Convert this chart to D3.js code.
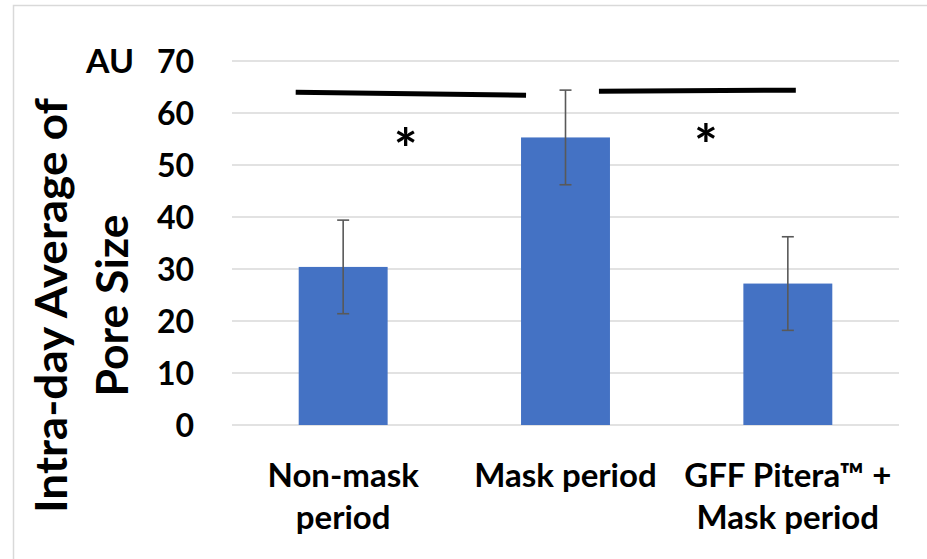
<!DOCTYPE html>
<html>
<head>
<meta charset="utf-8">
<script src="https://cdn.jsdelivr.net/npm/d3@7"></script>
<style>
  html, body { margin: 0; padding: 0; background: #fff; }
  svg { display: block; }
  text { font-family: Lato, "Open Sans", sans-serif; font-weight: 700; fill: #000; }
</style>
</head>
<body>
<svg id="chart" width="927" height="559"></svg>
<script>
// Pore size by period (AU), with standard-deviation error bars
const categories = ["Non-mask period", "Mask period", "GFF Pitera™ + Mask period"];
const categoryLines = [["Non-mask", "period"], ["Mask period"], ["GFF Pitera™ +", "Mask period"]];
const means = [30.4, 55.3, 27.2];
const errors = [9.0, 9.1, 9.0];
const yTicks = [0, 10, 20, 30, 40, 50, 60, 70];
const unitLabel = "AU";
const yTitleLines = ["Intra-day Average of", "Pore Size"];
// significance brackets between neighbouring groups: [from, to, level]
const brackets = [[0, 1, 63.7], [1, 2, 64.3]];
const stars = ["*", "*"];

const svg = d3.select("#chart");
const W = 927, H = 559;
const plot = { left: 232, right: 899, top: 61, bottom: 425 };

// outer frame
svg.append("rect")
  .attr("x", 13.5).attr("y", 5.5)
  .attr("width", W + 10).attr("height", H + 10)
  .attr("fill", "#fff").attr("stroke", "#d9d9d9").attr("stroke-width", 1.5);

const x = d3.scaleBand()
  .domain(categories)
  .range([plot.left, plot.right])
  .paddingInner(0.6)
  .paddingOuter(0.3);

const y = d3.scaleLinear().domain([0, 70]).range([plot.bottom, plot.top]);

// gridlines
svg.append("g")
  .selectAll("line")
  .data(yTicks)
  .join("line")
  .attr("x1", plot.left).attr("x2", plot.right)
  .attr("y1", d => y(d)).attr("y2", d => y(d))
  .attr("stroke", "#d9d9d9").attr("stroke-width", 1.5);

// y tick labels via axis generator
const yAxis = svg.append("g")
  .attr("transform", `translate(${plot.left - 38},0)`)
  .call(d3.axisLeft(y).tickValues(yTicks).tickSize(0).tickPadding(0));
yAxis.select(".domain").remove();
yAxis.selectAll("text")
  .style("font-family", "Lato, 'Open Sans', sans-serif")
  .style("font-weight", 700)
  .style("font-size", "32px")
  .attr("fill", "#000")
  .attr("dy", "0.36em");

svg.append("text")
  .attr("x", 110).attr("y", y(70))
  .attr("dy", "0.36em")
  .attr("text-anchor", "middle")
  .attr("textLength", 48)
  .attr("lengthAdjust", "spacingAndGlyphs")
  .style("font-size", "32px")
  .text(unitLabel);

// y title
const titleG = svg.append("g")
  .attr("transform", `translate(0, ${(98 + 513) / 2}) rotate(-90)`);
const titleLens = [415, 182];
const titleX = [52, 113];
yTitleLines.forEach((t, i) => {
  titleG.append("text")
    .attr("x", 0).attr("y", titleX[i])
    .attr("dy", "0.35em")
    .attr("text-anchor", "middle")
    .attr("textLength", titleLens[i])
    .attr("lengthAdjust", "spacingAndGlyphs")
    .style("font-size", "44px")
    .text(t);
});

// bars
svg.append("g")
  .selectAll("rect")
  .data(categories)
  .join("rect")
  .attr("x", d => x(d))
  .attr("width", x.bandwidth())
  .attr("y", (d, i) => y(means[i]))
  .attr("height", (d, i) => y(0) - y(means[i]))
  .attr("fill", "#4472c4");

// error bars
const eb = svg.append("g").attr("stroke", "#595959").attr("stroke-width", 1.6);
categories.forEach((c, i) => {
  const cx = x(c) + x.bandwidth() / 2;
  const hi = y(means[i] + errors[i]), lo = y(means[i] - errors[i]);
  eb.append("line").attr("x1", cx).attr("x2", cx).attr("y1", hi).attr("y2", lo);
  eb.append("line").attr("x1", cx - 6).attr("x2", cx + 6).attr("y1", hi).attr("y2", hi);
  eb.append("line").attr("x1", cx - 6).attr("x2", cx + 6).attr("y1", lo).attr("y2", lo);
});

// significance brackets and stars
const bw = x.bandwidth();
brackets.forEach(([a, b, lvl], i) => {
  const xa = i === 0 ? x(categories[a]) - 3 : x(categories[a]) + bw - 11;
  const xb = i === 0 ? x(categories[b]) + 5 : x(categories[b]) + bw / 2 + 8;
  const tilt = i === 0 ? 1.5 : -0.5;
  svg.append("line")
    .attr("x1", xa).attr("x2", xb)
    .attr("y1", y(lvl) - tilt).attr("y2", y(lvl) + tilt)
    .attr("stroke", "#000").attr("stroke-width", 5);
  const sx = i === 0 ? x(categories[a]) + bw + 18 : x(categories[a]) + bw + 96;
  svg.append("text")
    .attr("x", sx).attr("y", y(lvl) + (i === 0 ? 75 : 74))
    .attr("text-anchor", "middle")
    .style("font-size", "56px")
    .text(stars[i]);
});

// category labels
categories.forEach((c, i) => {
  const cx = x(c) + bw / 2;
  categoryLines[i].forEach((line, j) => {
    svg.append("text")
      .attr("x", cx).attr("y", 487 + j * 42)
      .attr("text-anchor", "middle")
      .style("font-size", "33px")
      .text(line);
  });
});
</script>
</body>
</html>
